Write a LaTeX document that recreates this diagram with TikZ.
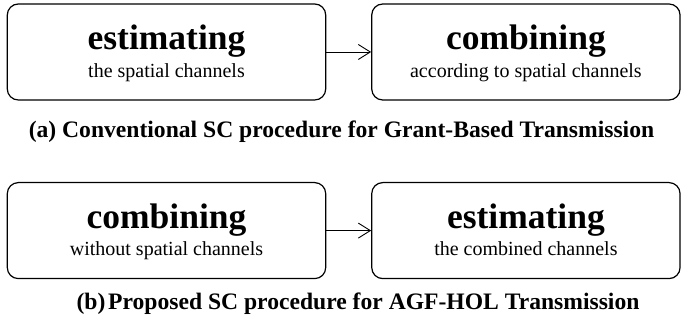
\documentclass[tikz,border=0pt]{standalone}
\usepackage{fontspec}
\setmainfont{Liberation Serif}
\usetikzlibrary{arrows.meta}
\tikzset{
  box/.style={draw=black, line width=1.2pt, rounded corners=11pt, inner sep=0pt, minimum height=96pt},
  boxtitle/.style={anchor=base, inner sep=0pt, font=\fontsize{35.5}{40}\selectfont\bfseries},
  boxsub/.style={anchor=base, inner sep=0pt, font=\fontsize{20}{24}\selectfont},
  caption/.style={anchor=base, inner sep=0pt, font=\fontsize{23.6}{28}\selectfont\bfseries},
  arr/.style={line width=0.9pt, -{Straight Barb[length=12pt,width=15pt,line width=0.9pt]}}
}
\begin{document}
\begin{tikzpicture}[x=1pt,y=1pt]
\useasboundingbox (0,0) rectangle (682,326);
% row (a)
\node[box, minimum width=318.4pt] (a1) at (166.5,274) {};
\node[box, minimum width=308.3pt] (a2) at (525.9,274) {};
\node[boxtitle] (a1t) at ([yshift=2.3pt]a1.center) {estimating};
\node[boxsub] (a1s) at ([yshift=-25.2pt]a1.center) {the spatial channels};
\node[boxtitle] (a2t) at ([yshift=2.3pt]a2.center) {combining};
\node[boxsub] (a2s) at ([yshift=-25.2pt]a2.center) {according to spatial channels};
\draw[arr] (a1) -- (a2);
\node[caption] (capa) at (341.5,188) {(a) Conventional SC procedure for Grant-Based Transmission};
% row (b)
\node[box, minimum width=318.4pt] (b1) at (166.5,95.4) {};
\node[box, minimum width=308.3pt] (b2) at (525.9,95.4) {};
\node[boxtitle] (b1t) at ([yshift=2.3pt]b1.center) {combining};
\node[boxsub] (b1s) at ([yshift=-25.2pt]b1.center) {without spatial channels};
\node[boxtitle] (b2t) at ([yshift=2.3pt]b2.center) {estimating};
\node[boxsub] (b2s) at ([yshift=-25.2pt]b2.center) {the combined channels};
\draw[arr] (b1) -- (b2);
\node[caption] (capb) at (358,16) {(b)\hspace{0.12em}Proposed SC procedure for AGF-HOL Transmission};
\end{tikzpicture}
\end{document}
